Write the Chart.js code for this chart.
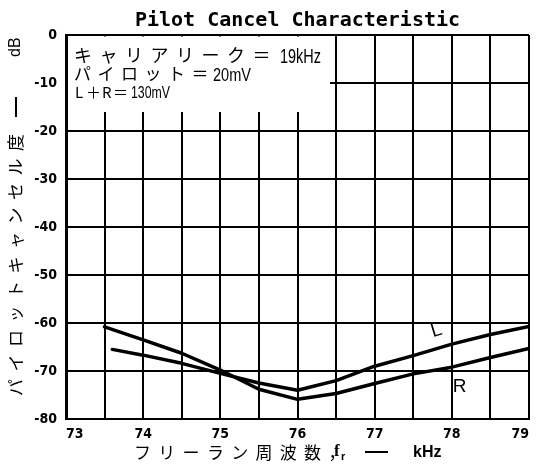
<!DOCTYPE html>
<html>
<head>
<meta charset="utf-8">
<script src="https://cdn.jsdelivr.net/npm/chart.js@4"></script>
<style>
  html, body { margin: 0; padding: 0; background: #fff; }
</style>
</head>
<body>
<canvas id="pilotChart" width="536" height="474"></canvas>
<script>
// --- data ---
const freqTicks = [73, 74, 75, 76, 77, 78, 79];
const levelTicks = [0, -10, -20, -30, -40, -50, -60, -70, -80];

const lFreq = [73.6, 74, 74.5, 75, 75.5, 76, 76.5, 77, 77.5, 78, 78.5, 79];
const lLevel = [-65.5, -66.7, -68.4, -70.5, -72.5, -74.0, -72.0, -69.0, -66.8, -64.4, -62.4, -60.7];

const rFreq = [73.5, 74, 74.5, 75, 75.5, 76, 76.5, 77, 77.5, 78, 78.5, 79];
const rLevel = [-60.8, -63.5, -66.3, -69.8, -73.8, -75.9, -74.7, -72.6, -70.6, -69.2, -67.2, -65.3];

const curveNames = ['L', 'R'];
const curveNameFreq = [77.8, 78.1];
const curveNameLevel = [-61.6, -73.2];

const CJK = '"Noto Sans CJK JP", sans-serif';
const NARROW = '"Liberation Sans Narrow", "DejaVu Sans Condensed", "Liberation Sans", sans-serif';

// draw one glyph per cell, like the typeset scan
function spaced(ctx, text, x, y, step) {
    [...text].forEach((ch, i) => ctx.fillText(ch, x + i * step, y));
    return x + [...text].length * step;
}

// squeeze latin text into a given width (the scan uses a condensed face)
function squeezed(ctx, text, x, y, width) {
    const w = ctx.measureText(text).width;
    ctx.save();
    ctx.translate(x, y);
    ctx.scale(Math.min(1, width / w), 1);
    ctx.fillText(text, 0, 0);
    ctx.restore();
}

const annotations = {
    id: 'annotations',
    beforeDatasetsDraw(chart) {
        const { ctx, chartArea } = chart;
        ctx.save();
        // white box behind the conditions text
        ctx.fillStyle = '#fff';
        ctx.fillRect(chartArea.left + 2, chartArea.top + 1.5, 330 - chartArea.left - 2, 112 - chartArea.top - 1.5);

        ctx.fillStyle = '#000';
        ctx.textBaseline = 'alphabetic';
        ctx.textAlign = 'left';
        ctx.font = '18px ' + CJK;
        spaced(ctx, 'キャリアリーク＝', 74, 62, 25.5);
        ctx.font = '20px "Liberation Sans", sans-serif';
        squeezed(ctx, '19kHz', 280, 63, 41);

        ctx.font = '17px ' + CJK;
        spaced(ctx, 'パイロット＝', 74, 80, 23.5);
        ctx.font = '18px "Liberation Sans", sans-serif';
        squeezed(ctx, '20mV', 213, 81, 38);

        ctx.font = '15px ' + CJK;
        ctx.fillText('L', 75, 98);
        ctx.fillText('＋', 86, 98);
        ctx.fillText('R', 102, 98);
        ctx.fillText('＝', 113, 98);
        ctx.font = '16px "Liberation Sans", sans-serif';
        squeezed(ctx, '130mV', 131, 98, 39);
        ctx.restore();
    },
    afterDraw(chart) {
        const { ctx } = chart;
        const xs = chart.scales.x, ys = chart.scales.y;
        ctx.save();
        ctx.fillStyle = '#000';

        // --- y axis title, rotated ---
        ctx.save();
        ctx.translate(16, 396);
        ctx.rotate(-Math.PI / 2);
        ctx.textBaseline = 'middle';
        ctx.textAlign = 'left';
        ctx.font = '17px ' + CJK;
        spaced(ctx, 'パイロットキャンセル度', 0, 0, 24.5);
        ctx.fillRect(279, -1, 20, 2);
        ctx.font = '16px "Liberation Sans", sans-serif';
        ctx.fillText('dB', 339, 0);
        ctx.restore();

        // --- x axis title ---
        ctx.textBaseline = 'middle';
        ctx.textAlign = 'left';
        ctx.font = '17px ' + CJK;
        spaced(ctx, 'フリーラン周波数，', 134, 453, 24.3);
        ctx.font = 'bold 17px "Liberation Serif", serif';
        ctx.fillText('f', 334, 452);
        ctx.font = 'bold 11px "Liberation Sans", sans-serif';
        ctx.fillText('r', 341, 457);
        ctx.fillRect(365, 451, 23, 2);
        ctx.font = 'bold 16px "Liberation Sans", sans-serif';
        squeezed(ctx, 'kHz', 413, 453, 30);

        // --- curve names ---
        ctx.font = '19px "Liberation Sans", sans-serif';
        ctx.textAlign = 'center';
        curveNames.forEach((name, i) => {
            const px = xs.getPixelForValue(curveNameFreq[i]);
            const py = ys.getPixelForValue(curveNameLevel[i]);
            ctx.save();
            ctx.translate(px, py);
            if (name === 'L') ctx.rotate(-0.3);
            ctx.fillText(name, 0, 0);
            ctx.restore();
        });
        ctx.restore();
    }
};

const ctx = document.getElementById('pilotChart').getContext('2d');
const lineStyle = {
    borderColor: '#000',
    borderWidth: 3.5,
    pointRadius: 0,
    tension: 0,
    borderCapStyle: 'round',
    borderJoinStyle: 'round',
    fill: false
};

new Chart(ctx, {
    type: 'line',
    data: {
        datasets: [
            { label: 'L', data: lFreq.map((f, i) => ({ x: f, y: lLevel[i] })), ...lineStyle },
            { label: 'R', data: rFreq.map((f, i) => ({ x: f, y: rLevel[i] })), ...lineStyle }
        ]
    },
    options: {
        responsive: false,
        animation: false,
        devicePixelRatio: 1,
        layout: { padding: { right: 3 } },
        plugins: {
            legend: { display: false },
            tooltip: { enabled: false },
            title: {
                display: true,
                fullSize: false,
                text: 'Pilot Cancel Characteristic',
                color: '#000',
                font: { family: '"DejaVu Sans Mono", monospace', size: 20, weight: 'bold' },
                padding: { top: 9, bottom: 2 }
            }
        },
        scales: {
            x: {
                type: 'linear',
                min: 73,
                max: 79,
                afterFit: s => { s.height = 55; },
                grid: { color: '#000', lineWidth: 2, drawTicks: false },
                border: { color: '#000', width: 2 },
                ticks: {
                    stepSize: 0.5,
                    autoSkip: false,
                    maxRotation: 0,
                    align: 'inner',
                    padding: 7,
                    color: '#000',
                    font: { family: NARROW, size: 14, weight: 'bold' },
                    callback: v => freqTicks.includes(v) ? String(v) : ''
                }
            },
            y: {
                min: -80,
                max: 0,
                afterFit: s => { s.width = 66; },
                afterBuildTicks: s => { s.ticks = levelTicks.map(v => ({ value: v })); },
                grid: { color: '#000', lineWidth: 2, drawTicks: false },
                border: { color: '#000', width: 3 },
                ticks: {
                    padding: 9,
                    color: '#000',
                    font: { family: NARROW, size: 14, weight: 'bold' }
                }
            }
        }
    },
    plugins: [annotations]
});
</script>
</body>
</html>
